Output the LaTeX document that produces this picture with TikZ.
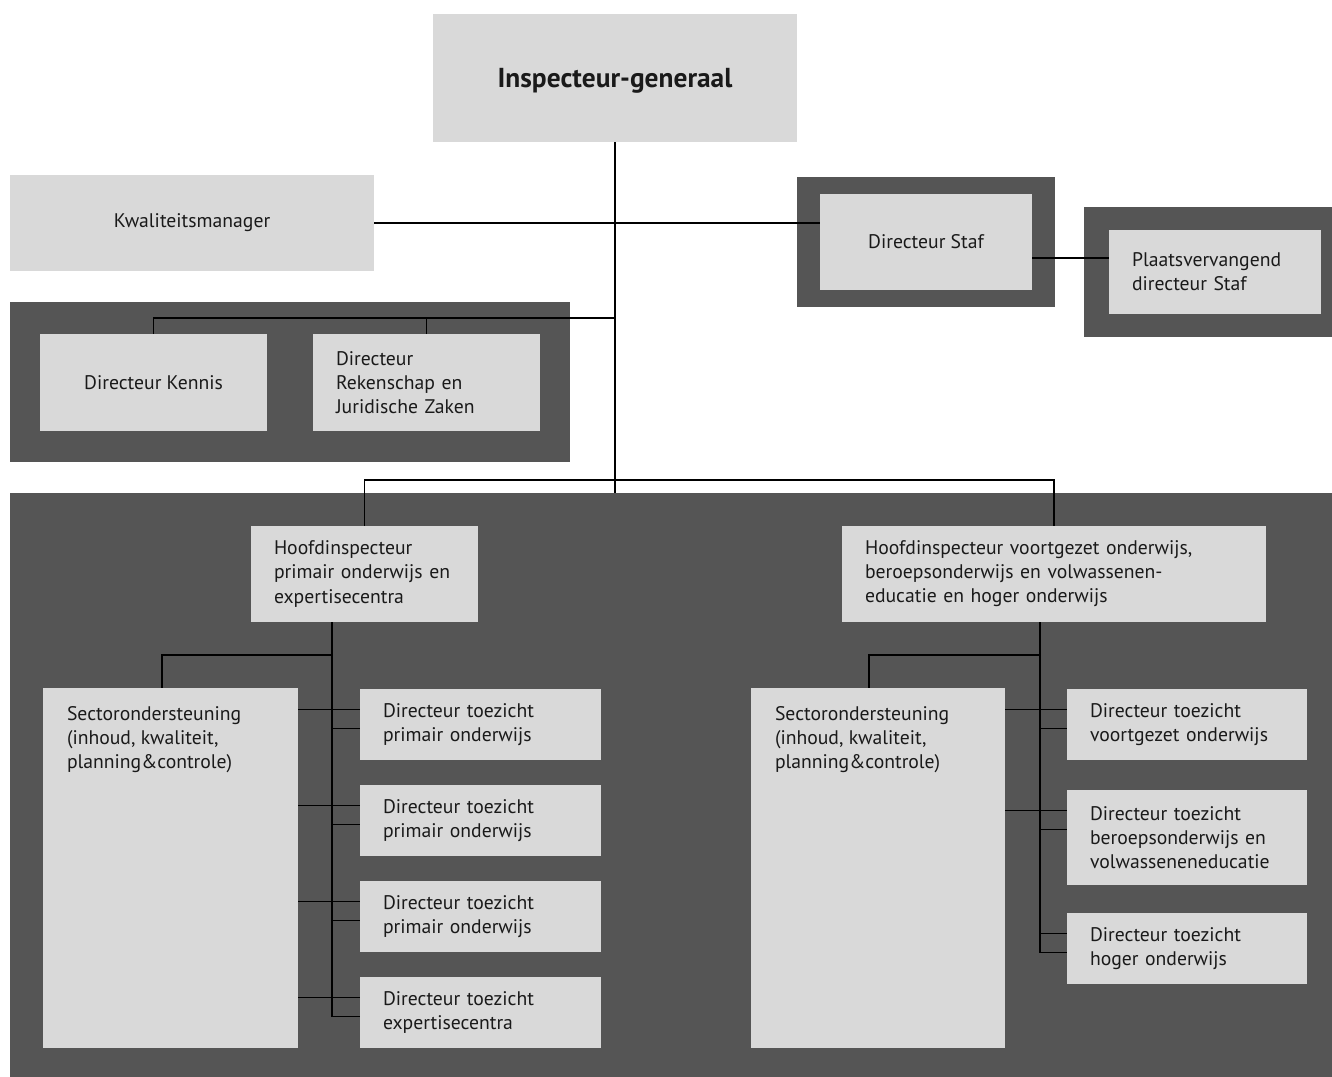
\documentclass[tikz,border=0pt]{standalone}
\usepackage{fontspec}
\setmainfont{PT Sans}
\usetikzlibrary{calc}
\definecolor{panelgrey}{HTML}{555555}
\definecolor{cellgrey}{HTML}{D9D9D9}
\definecolor{inkgrey}{HTML}{1A1A1A}

\begin{document}
\begin{tikzpicture}[
    x=0.02cm, y=-0.02cm,
    panel/.style={fill=panelgrey, inner sep=0pt},
    cell/.style={fill=cellgrey, text=inkgrey, inner xsep=0.46cm, inner ysep=0pt, font=\fontsize{11.2}{13.7}\selectfont},
    link/.style={draw=black, line width=0.8pt}
]
    \useasboundingbox (0,0) rectangle (1332,1077);

    % Panels
    \node[panel, minimum width=5.16cm, minimum height=2.6cm] (stafpanel) at (926,242) {};
    \node[panel, minimum width=4.96cm, minimum height=2.6cm] (pvpanel) at (1208,272) {};
    \node[panel, minimum width=11.2cm, minimum height=3.2cm] (kennispanel) at (290,382) {};
    \node[panel, minimum width=26.44cm, minimum height=11.68cm] (onderwijspanel) at (671,785) {};

    % Nodes
    \node[cell, minimum width=7.28cm, minimum height=2.56cm, text depth=0.02cm, font=\fontsize{15.6}{18}\selectfont\bfseries] (ig) at (615,78) {Inspecteur-generaal};
    \node[cell, minimum width=7.28cm, minimum height=1.92cm] (kwal) at (192,223) {Kwaliteitsmanager};
    \node[cell, minimum width=4.24cm, minimum height=1.92cm] (staf) at (926,242) {Directeur Staf};
    \node[cell, minimum width=4.24cm, minimum height=1.68cm, text width=3.32cm, align=left] (pv) at (1215,272) {Plaatsvervangend\\directeur Staf};
    \node[cell, minimum width=4.54cm, minimum height=1.94cm] (kennis) at (153.5,382.5) {Directeur Kennis};
    \node[cell, minimum width=4.54cm, minimum height=1.94cm, text width=3.62cm, align=left] (rekenschap) at (426.5,382.5) {Directeur\\Rekenschap en\\Juridische Zaken};
    \node[cell, minimum width=4.54cm, minimum height=1.92cm, text width=3.62cm, align=left] (hpo) at (364.5,574) {Hoofdinspecteur\\primair onderwijs en\\expertisecentra};
    \node[cell, minimum width=8.48cm, minimum height=1.92cm, text width=7.56cm, align=left] (hvo) at (1054,574) {Hoofdinspecteur voortgezet onderwijs,\\beroepsonderwijs en volwassenen-\\educatie en hoger onderwijs};

    \node[cell, inner xsep=0.48cm] (secl) at (170.5,868) {\parbox[c][7.2cm][t]{4.14cm}{\vspace*{0.36cm}Sectorondersteuning\\(inhoud, kwaliteit,\\planning\&controle)}};
    \node[cell, minimum width=4.82cm, minimum height=1.42cm, text width=3.9cm, align=left] (po1) at (480.5,724.5) {Directeur toezicht\\primair onderwijs};
    \node[cell, minimum width=4.82cm, minimum height=1.42cm, text width=3.9cm, align=left] (po2) at (480.5,820.5) {Directeur toezicht\\primair onderwijs};
    \node[cell, minimum width=4.82cm, minimum height=1.42cm, text width=3.9cm, align=left] (po3) at (480.5,916.5) {Directeur toezicht\\primair onderwijs};
    \node[cell, minimum width=4.82cm, minimum height=1.42cm, text width=3.9cm, align=left] (ec) at (480.5,1012.5) {Directeur toezicht\\expertisecentra};

    \node[cell, inner xsep=0.48cm] (secr) at (878,868) {\parbox[c][7.2cm][t]{4.12cm}{\vspace*{0.36cm}Sectorondersteuning\\(inhoud, kwaliteit,\\planning\&controle)}};
    \node[cell, minimum width=4.8cm, minimum height=1.42cm, text width=3.88cm, align=left] (vo) at (1187,724.5) {Directeur toezicht\\voortgezet onderwijs};
    \node[cell, minimum width=4.8cm, minimum height=1.9cm, text width=3.88cm, align=left] (bve) at (1187,837.5) {Directeur toezicht\\beroepsonderwijs en\\volwasseneneducatie};
    \node[cell, minimum width=4.8cm, minimum height=1.42cm, text width=3.88cm, align=left] (ho) at (1187,948.5) {Directeur toezicht\\hoger onderwijs};

    % Lines top
    \draw[link] (ig.south) -- (ig.south |- onderwijspanel.north);
    \draw[link] (kwal.east) -- (kwal.east -| staf.west);
    \coordinate (pvlink) at (1070,258);
    \draw[link] (pvlink -| staf.east) -- (pvlink -| pv.west);
    \coordinate (kennissplit) at (615,318);
    \draw[link] (kennissplit) -| (kennis.north);
    \draw[link] (rekenschap.north) -- (rekenschap.north |- kennissplit);
    \coordinate (inspsplit) at (615,480);
    \draw[link] (hpo.north) |- (inspsplit) -| (hvo.north);

    % Lines left sector
    \coordinate (spinel) at (332,655);
    \draw[link] (spinel) -| ([xshift=-0.17cm]secl.north);
    \foreach \d in {po1, po2, po3, ec} {
        \coordinate (\d-a) at ([yshift=-0.42cm]\d.north west);
        \coordinate (\d-b) at ([yshift=-0.8cm]\d.north west);
        \draw[link] (secl.east |- \d-a) -- (\d-a);
        \draw[link] (spinel |- \d-b) -- (\d-b);
    }
    \draw[link] (spinel |- hpo.south) -- (spinel |- ec-b);

    % Lines right sector
    \coordinate (spiner) at (1040,655);
    \draw[link] (spiner) -| ([xshift=-0.18cm]secr.north);
    \foreach \d in {vo, bve, ho} {
        \coordinate (\d-a) at ([yshift=-0.42cm]\d.north west);
        \coordinate (\d-b) at ([yshift=-0.8cm]\d.north west);
        \draw[link] (spiner |- \d-b) -- (\d-b);
    }
    \draw[link] (secr.east |- vo-a) -- (vo-a);
    \draw[link] (secr.east |- bve-a) -- (bve-a);
    \draw[link] (spiner |- ho-a) -- (ho-a);
    \draw[link] (spiner |- hvo.south) -- (spiner |- ho-b);
\end{tikzpicture}
\end{document}
